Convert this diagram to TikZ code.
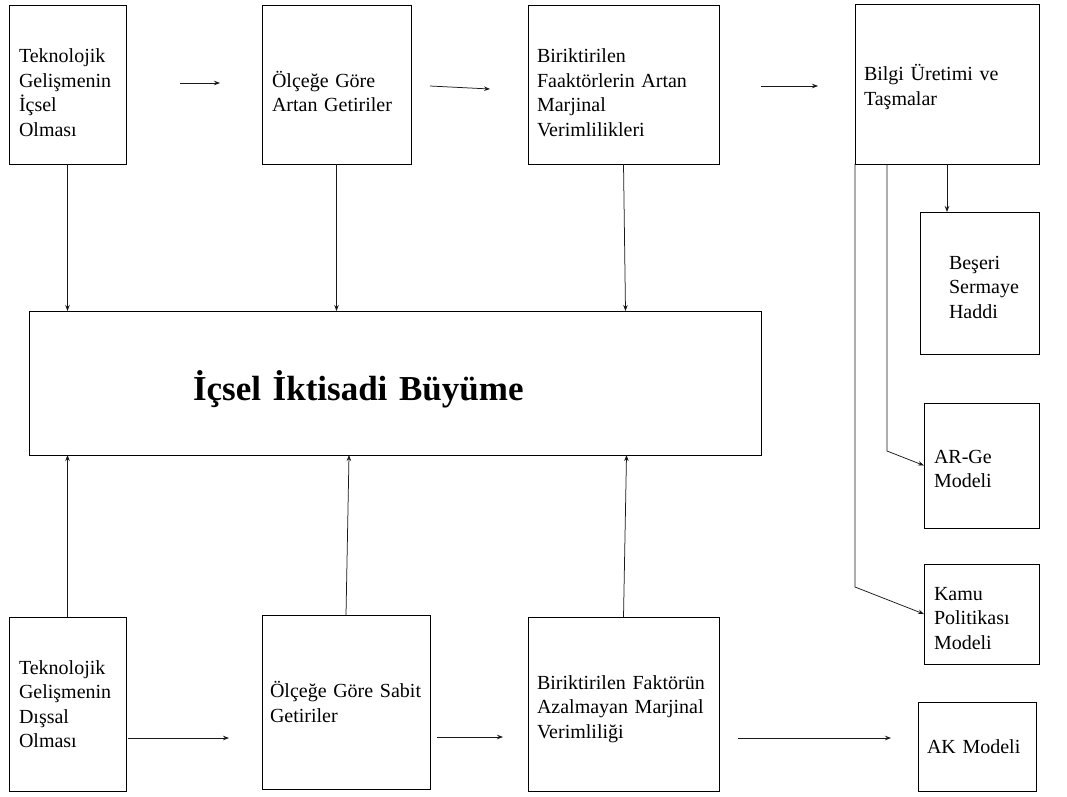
\documentclass[tikz,border=0pt]{standalone}
\usepackage{fontspec}
\setmainfont{Liberation Serif}
\usetikzlibrary{arrows.meta,calc}
\hyphenpenalty=10000
\exhyphenpenalty=10000
\newcommand{\lift}[1]{\rule{0pt}{#1}}
\begin{document}
\begin{tikzpicture}[x=1pt,y=-1pt,
  box/.style={draw=black, line width=0.8pt, rectangle, align=left,
    font=\fontsize{20}{24.5}\selectfont, anchor=north west,
    inner ysep=0pt, outer sep=0pt},
  arr/.style={draw=black!90, line width=0.75pt, -{Stealth[length=6pt,width=4.5pt]}},
  ln/.style={draw=black!90, line width=0.75pt}]
\useasboundingbox (0,0) rectangle (1067,796);

% top row
\node[box, minimum width=117pt, minimum height=159pt, text width=97pt, inner xsep=10pt] (b1) at (9,5)
  {\lift{30pt}Teknolojik\\Gelişmenin\\İçsel\\Olması};
\node[box, minimum width=149pt, minimum height=159pt, text width=129pt, inner xsep=10pt] (b2) at (262,5)
  {\lift{30pt}Ölçeğe Göre\\Artan Getiriler};
\node[box, minimum width=191pt, minimum height=159pt, text width=173pt, inner xsep=9pt] (b3) at (528,5)
  {\lift{30pt}Biriktirilen\\Faaktörlerin Artan\\Marjinal\\Verimlilikleri};
\node[box, minimum width=184pt, minimum height=160pt, text width=166pt, inner xsep=9pt] (b4) at (855,4)
  {\lift{22pt}Bilgi Üretimi ve\\Taşmalar};

% central box
\node[box, minimum width=732pt, minimum height=144pt, text width=404pt, inner xsep=164pt,
  font=\fontsize{35}{40}\selectfont\bfseries] (big) at (29,311)
  {\lift{42pt}İçsel İktisadi Büyüme};

% right column
\node[box, minimum width=119pt, minimum height=142pt, text width=61pt, inner xsep=29pt] (beseri) at (920,212)
  {\lift{22pt}Beşeri\\Sermaye\\Haddi};
\node[box, minimum width=115pt, minimum height=125pt, text width=95pt, inner xsep=10pt] (arge) at (924,403)
  {\lift{20pt}AR-Ge\\Modeli};
\node[box, minimum width=115pt, minimum height=100pt, text width=95pt, inner xsep=10pt] (kamu) at (924,564)
  {\lift{22pt}Kamu\\Politikası\\Modeli};
\node[box, minimum width=118pt, minimum height=89pt, text width=100pt, inner xsep=9pt] (ak) at (918,702)
  {AK Modeli};

% bottom row
\node[box, minimum width=117pt, minimum height=174pt, text width=97pt, inner xsep=10pt] (b5) at (9,617)
  {Teknolojik\\Gelişmenin\\Dışsal\\Olması};
\node[box, minimum width=168pt, minimum height=174pt, text width=152pt, inner xsep=8pt] (b6) at (262,615)
  {Ölçeğe Göre Sabit\\Getiriler};
\node[box, minimum width=191pt, minimum height=174pt, text width=173pt, inner xsep=9pt] (b7) at (528,617)
  {\lift{24pt}Biriktirilen Faktörün\\Azalmayan Marjinal\\Verimliliği};

% free-standing arrows
\coordinate (s12) at (180,83);  \coordinate (e12) at (220,83);
\coordinate (s23) at (430,86);  \coordinate (e23) at (490,89);
\coordinate (s34) at (761,86);  \coordinate (e34) at (818,86);
\coordinate (s56) at (128,738); \coordinate (e56) at (229,738);
\coordinate (s67) at (437,737); \coordinate (e67) at (503,737);
\coordinate (s7k) at (738,738); \coordinate (e7k) at (891,738);
\draw[arr] (s12) -- (e12);
\draw[arr] (s23) -- (e23);
\draw[arr] (s34) -- (e34);
\draw[arr] (s56) -- (e56);
\draw[arr] (s67) -- (e67);
\draw[arr] (s7k) -- (e7k);

% vertical arrows into the central box
\draw[arr] (b1.south) -- (b1.south |- big.north);
\draw[arr] (b2.south) -- (b2.south |- big.north);
\draw[arr] (b3.south) -- ($(b3.south |- big.north)+(2,0)$);
\draw[arr] (b5.north) -- (b5.north |- big.south);
\draw[arr] (b6.north) -- ($(b6.north |- big.south)+(3,0)$);
\draw[arr] (b7.north) -- ($(b7.north |- big.south)+(3,0)$);

% branches of Bilgi Üretimi
\draw[arr] (b4.south) -- (b4.south |- beseri.north);
\draw[arr] ($(b4.south west)+(32,0)$) -- ++(0,287) -- (arge.west);
\draw[arr] (b4.south west) -- ++(0,423) -- (kamu.west);
\end{tikzpicture}
\end{document}
